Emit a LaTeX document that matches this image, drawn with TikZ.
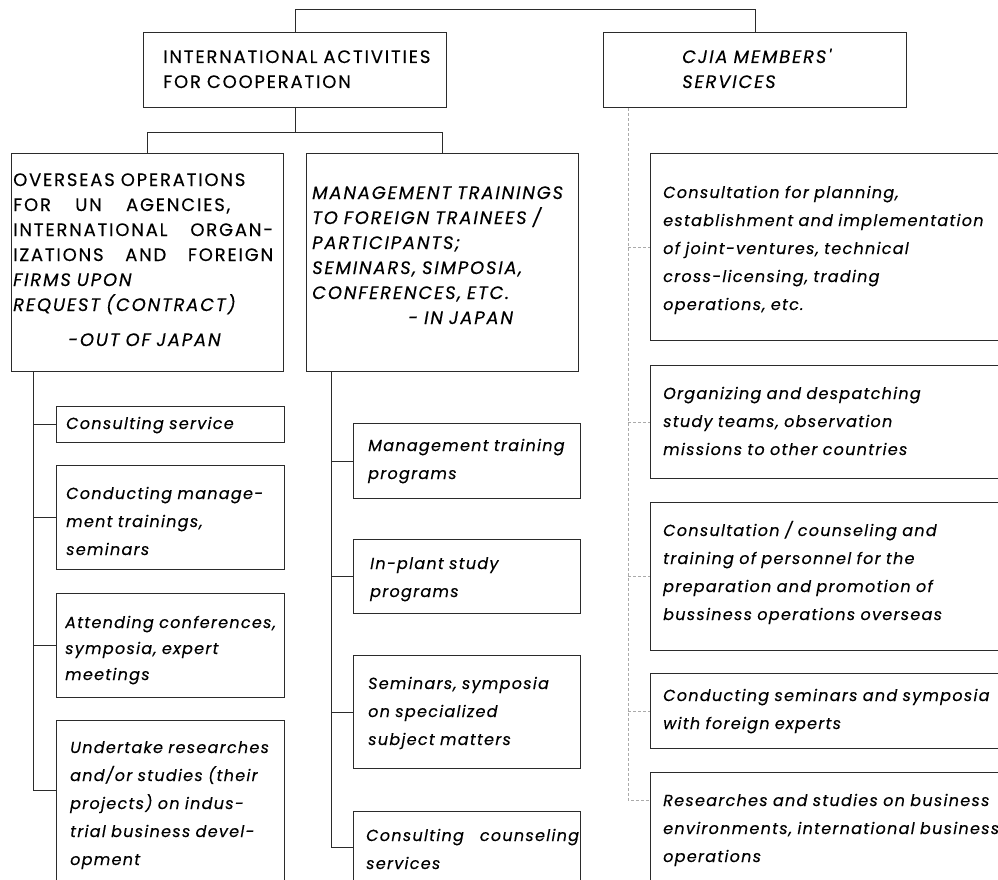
\documentclass[tikz,border=0pt]{standalone}
\usepackage{fontspec}
\setmainfont{Poppins}
\newfontfamily\capsfamily{Poppins}[LetterSpace=10, FakeBold=0.3]
\newfontfamily\bodyfamily{Poppins}[LetterSpace=8, FakeBold=0.3]
\usetikzlibrary{positioning}
\definecolor{ink}{HTML}{2b2b2b}
\newcommand{\capsline}{\capsfamily\fontsize{18}{25}\selectfont}
\newcommand{\textline}{\bodyfamily\fontsize{16}{28}\selectfont\itshape}
\newcommand{\fillline}[2][260pt]{\makebox[#1][l]{#2}}

\begin{document}
\begin{tikzpicture}[
    x=1pt, y=-1pt,
    frame/.style={draw=ink, line width=0.9pt, anchor=north west, inner sep=0pt},
    head/.style={anchor=base west, inner sep=0pt, text width=400pt, align=left,
                 font=\capsline},
    entry/.style={anchor=base west, inner sep=0pt, text width=400pt, align=left,
                  font=\textline},
    link/.style={draw=ink, line width=0.8pt},
    faint/.style={draw=ink!40, line width=0.6pt, densely dashed}
]
\useasboundingbox (0,0) rectangle (998,880);
\clip (0,0) rectangle (998,880);

% top level
\node[frame, minimum width=303pt, minimum height=75pt] (intl) at (143,32) {};
\node[head] (intl-t) at (163,63) {INTERNATIONAL ACTIVITIES\\FOR COOPERATION};
\node[frame, minimum width=303pt, minimum height=75pt] (cjia) at (603,32) {};
\node[head, font=\capsline\itshape] (cjia-t) at (682,63) {CJIA MEMBERS'\\SERVICES};

% second level
\node[frame, minimum width=272pt, minimum height=218pt] (ovs) at (11,153) {};
\node[head] (ovs-t) at (13,186) {OVERSEAS OPERATIONS\\
    \fillline[217pt]{FOR\hfill UN\hfill AGENCIES,}\\
    \fillline{INTERNATIONAL\hfill ORGAN-}\\\fillline{IZATIONS\hfill AND\hfill FOREIGN}\\
    \textit{FIRMS UPON}\\\textit{REQUEST (CONTRACT)}\\[10pt]
    \hspace*{55pt}\textit{-OUT OF JAPAN}};
\node[frame, minimum width=272pt, minimum height=218pt] (mgt) at (306,153) {};
\node[head, font=\capsline\itshape] (mgt-t) at (312,199) {MANAGEMENT TRAININGS\\
    TO FOREIGN TRAINEES /\\PARTICIPANTS;\\SEMINARS, SIMPOSIA,\\
    CONFERENCES, ETC.\\\hspace*{96pt}- IN JAPAN};

% out of Japan
\node[frame, minimum width=228pt, minimum height=36pt] (c1) at (56,406) {};
\node[entry] (c1-t) at (66,429) {Consulting service};
\node[frame, minimum width=228pt, minimum height=104pt] (c2) at (56,465) {};
\node[entry] (c2-t) at (66,499) {Conducting manage-\\ment trainings,\\seminars};
\node[frame, minimum width=228pt, minimum height=104pt] (c3) at (56,593) {};
\node[entry, font=\bodyfamily\fontsize{16}{26}\selectfont\itshape] (c3-t) at (65,628)
    {Attending conferences,\\symposia, expert\\meetings};
\node[frame, minimum width=228pt, minimum height=220pt] (c4) at (56,720) {};
\node[entry] (c4-t) at (70,753) {Undertake researches\\and/or studies (their\\
    projects) on indus-\\trial business devel-\\opment};

% in Japan
\node[frame, minimum width=227pt, minimum height=75pt] (m1) at (353,423) {};
\node[entry] (m1-t) at (368,451) {Management training\\programs};
\node[frame, minimum width=227pt, minimum height=74pt] (m2) at (353,539) {};
\node[entry] (m2-t) at (370,569) {In-plant study\\programs};
\node[frame, minimum width=227pt, minimum height=113pt] (m3) at (353,655) {};
\node[entry] (m3-t) at (368,689) {Seminars, symposia\\on specialized\\subject matters};
\node[frame, minimum width=227pt, minimum height=120pt] (m4) at (353,811) {};
\node[entry] (m4-t) at (366,841) {Consulting\quad counseling\\services};

% members' services
\node[frame, minimum width=400pt, minimum height=187pt] (r1) at (650,153) {};
\node[entry] (r1-t) at (663,198) {Consultation for planning,\\
    establishment and implementation\\of joint-ventures, technical\\
    cross-licensing, trading\\operations, etc.};
\node[frame, minimum width=400pt, minimum height=113pt] (r2) at (650,365) {};
\node[entry] (r2-t) at (663,399) {Organizing and despatching\\
    study teams, observation\\missions to other countries};
\node[frame, minimum width=400pt, minimum height=148pt] (r3) at (650,502) {};
\node[entry] (r3-t) at (663,536) {Consultation / counseling and\\
    training of personnel for the\\preparation and promotion of\\
    bussiness operations overseas};
\node[frame, minimum width=400pt, minimum height=75pt] (r4) at (650,673) {};
\node[entry] (r4-t) at (663,701) {Conducting seminars and symposia\\
    with foreign experts};
\node[frame, minimum width=400pt, minimum height=160pt] (r5) at (650,772) {};
\node[entry] (r5-t) at (663,806) {Researches and studies on business\\
    environments, international business\\operations};

% tree lines
\draw[link] (intl.north) -- ++(0,-23) -| (cjia.north);
\draw[link] (intl.south) -- ++(0,25) coordinate (split);
\draw[link] (ovs.north) |- (split) -| (mgt.north);

\coordinate (ltrunk) at ([xshift=22pt]ovs.south west);
\draw[link] (ltrunk) |- ([yshift=-70pt]c4.north west);
\foreach \b in {c1,c2,c3}
    \draw[link] (ltrunk |- \b.west) -- (\b.west);

\coordinate (mtrunk) at ([xshift=25pt]mgt.south west);
\draw[link] (mtrunk) |- ([yshift=-36pt]m4.north west);
\foreach \b in {m1,m2,m3}
    \draw[link] (mtrunk |- \b.west) -- (\b.west);

\coordinate (rtrunk) at ([xshift=25pt]cjia.south west);
\draw[faint] (rtrunk) |- ([yshift=-28pt]r5.north west);
\foreach \b in {r1,r2,r3,r4}
    \draw[faint] (rtrunk |- \b.west) -- (\b.west);
\end{tikzpicture}
\end{document}
